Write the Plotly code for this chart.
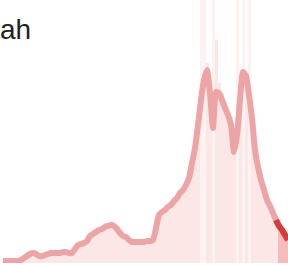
import plotly.graph_objects as go

# day index and values
days = list(range(96))
avg_cases = [20, 20, 20, 20, 20, 20, 30, 50, 70, 90,
             100, 90, 70, 70, 80, 90, 100, 100, 100, 100,
             110, 110, 100, 100, 140, 180, 190, 200, 220, 270,
             290, 310, 330, 340, 360, 370, 380, 370, 340, 300,
             270, 260, 230, 210, 210, 210, 210, 210, 220, 220,
             230, 350, 480, 510, 530, 560, 580, 620, 650, 700,
             730, 780, 850, 1000, 1150, 1380, 1630, 1830, 1930, 1700,
             1350, 1710, 1700, 1630, 1550, 1480, 1380, 1110, 1280, 1630,
             1910, 1870, 1680, 1450, 1130, 960, 830, 730, 630, 570,
             500, 430, 370, 330, 280, 230]
daily_cases = [0, 10, 20, 0, 20, 30, 20, 60, 80, 70,
               120, 80, 60, 90, 70, 100, 110, 90, 120, 90,
               130, 100, 90, 120, 160, 170, 220, 190, 240, 300,
               260, 330, 350, 310, 400, 340, 420, 350, 300, 330,
               250, 290, 200, 240, 190, 230, 200, 240, 210, 250,
               260, 380, 520, 470, 580, 520, 620, 600, 700, 680,
               780, 740, 900, 1050, 1250, 1500, 3000, 3000, 2000, 1800,
               3000, 2230, 1800, 1700, 1600, 1500, 1450, 1200, 3000, 1700,
               3000, 1900, 3000, 1500, 1200, 1000, 900, 780, 680, 600,
               520, 450, 400, 350, 300, 250]
recent_start = 91
title = "Utah"

ymax = 2630
bar_colors = []
for i in days:
    if daily_cases[i] > ymax:
        bar_colors.append("rgba(230,70,70,0.07)")
    elif i > recent_start:
        bar_colors.append("rgba(230,70,70,0.36)")
    else:
        bar_colors.append("rgba(230,70,70,0.13)")

fig = go.Figure()
fig.add_trace(go.Bar(x=days, y=daily_cases, marker=dict(color=bar_colors, line=dict(width=0)),
                     width=1, hoverinfo="skip"))
fig.add_trace(go.Scatter(x=days, y=avg_cases, mode="lines",
                         line=dict(color="#eea4a4", width=6, shape="spline", smoothing=0.5)))
fig.add_trace(go.Scatter(x=days[recent_start:], y=avg_cases[recent_start:], mode="lines",
                         line=dict(color="#d93a3a", width=6, shape="spline", smoothing=0.5)))

fig.update_layout(
    width=288, height=265,
    margin=dict(l=0, r=0, t=0, b=2),
    paper_bgcolor="white", plot_bgcolor="white",
    showlegend=False, bargap=0,
    xaxis=dict(range=[-1, 95], visible=False, fixedrange=True),
    yaxis=dict(range=[0, ymax], visible=False, fixedrange=True),
    annotations=[dict(text=title, xref="paper", yref="paper", x=-30/288, y=1 - 30/263,
                      xanchor="left", yanchor="middle", showarrow=False,
                      font=dict(family="Liberation Sans, Arial", size=28, color="#222"))],
)
fig.write_html("out.html", config={"displayModeBar": False},
               post_script="document.body.style.margin='0';document.body.style.overflow='hidden';")
